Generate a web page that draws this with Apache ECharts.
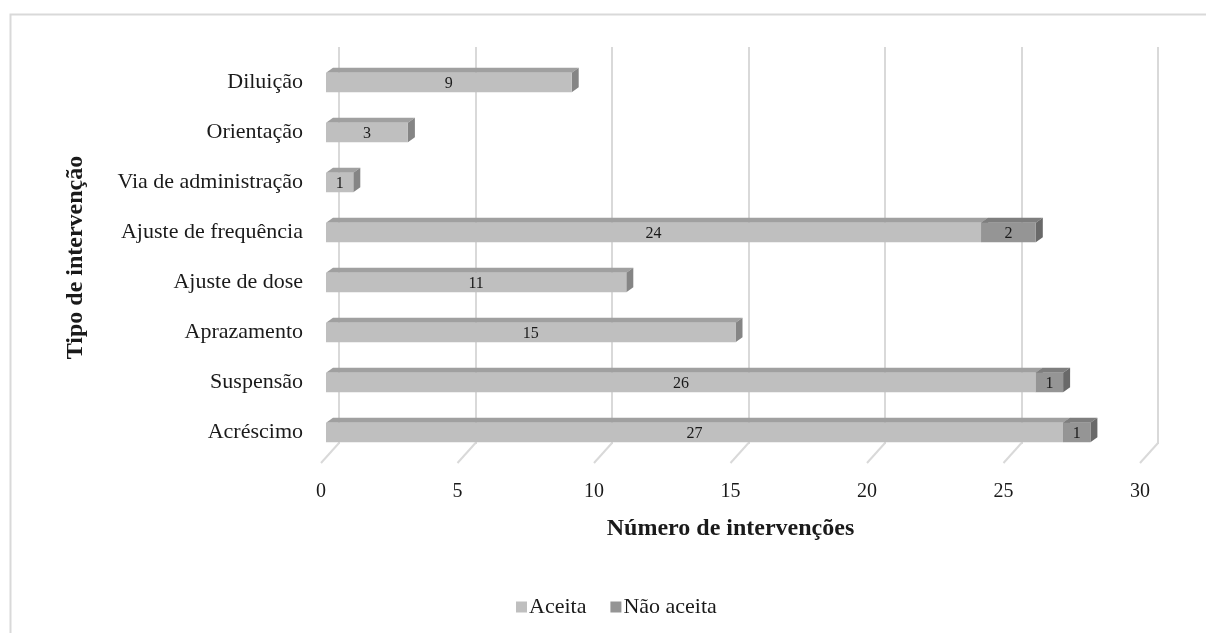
<!DOCTYPE html>
<html>
<head>
<meta charset="utf-8">
<script src="https://cdn.jsdelivr.net/npm/echarts@6/dist/echarts.min.js"></script>
<style>
  html, body { margin: 0; padding: 0; background: #ffffff; }
  #chart { width: 1206px; height: 633px; }
</style>
</head>
<body>
<div id="chart"></div>
<script>
// Intervention types, listed top to bottom
const categories = ['Diluição', 'Orientação', 'Via de administração', 'Ajuste de frequência',
  'Ajuste de dose', 'Aprazamento', 'Suspensão', 'Acréscimo'];
const aceita = [9, 3, 1, 24, 11, 15, 26, 27];
const naoAceita = [0, 0, 0, 2, 0, 0, 1, 1];
const xTicks = [0, 5, 10, 15, 20, 25, 30];

const FONT = '"Liberation Serif", "Times New Roman", serif';
const TEXT = '#1a1a1a';

// [start, end, categoryIndex] for each stacked segment
const aceitaSeg = aceita.map((v, i) => [0, v, i]);
const naoSeg = naoAceita.map((v, i) => [aceita[i], aceita[i] + v, i]);

// Draws a pseudo-3D box: front face, top face, right side face and a value label
function boxRenderer(front, top, side) {
  return function (params, api) {
    const s = api.value(0), e = api.value(1), c = api.value(2);
    if (e - s <= 0) return;
    const a = api.coord([s, c]);
    const b = api.coord([e, c]);
    const h = 19.5, dx = 7, dy = 5;
    const x0 = a[0], x1 = b[0];
    const y0 = a[1] - h / 2, y1 = a[1] + h / 2;
    return {
      type: 'group',
      children: [
        { type: 'polygon', shape: { points: [[x0, y0], [x1, y0], [x1 + dx, y0 - dy], [x0 + dx, y0 - dy]] },
          style: { fill: top } },
        { type: 'polygon', shape: { points: [[x1, y0], [x1 + dx, y0 - dy], [x1 + dx, y1 - dy], [x1, y1]] },
          style: { fill: side } },
        { type: 'rect', shape: { x: x0, y: y0, width: x1 - x0, height: h },
          style: { fill: front } },
        { type: 'text', style: { text: String(e - s), x: (x0 + x1) / 2, y: (y0 + y1) / 2 + 1,
          align: 'center', verticalAlign: 'middle', fill: TEXT, font: '16px ' + FONT } }
      ]
    };
  };
}

const chart = echarts.init(document.getElementById('chart'), null, { renderer: 'canvas' });

chart.setOption({
  backgroundColor: '#ffffff',
  animation: false,
  graphic: [{
    type: 'rect', left: 8, top: 12, shape: { width: 1300, height: 700 },
    style: { fill: 'none', stroke: '#d9d9d9', lineWidth: 2 }, silent: true
  }],
  legend: {
    data: ['Aceita', 'Não aceita'],
    left: 511, top: 591,
    icon: 'rect', itemWidth: 11, itemHeight: 11, itemGap: 24,
    textStyle: { fontFamily: FONT, fontSize: 22, color: TEXT, padding: [0, 0, 0, -3] }
  },
  grid: [
    { left: 326, right: 61, top: 57.5, bottom: 175.5 },   // bars (front plane)
    { left: 339, right: 48, top: 47, bottom: 189 },       // gridlines (back plane)
    { left: 321, right: 66, top: 444, bottom: 170 }       // floor and tick labels
  ],
  xAxis: [
    { gridIndex: 0, type: 'value', min: 0, max: 30, interval: 5, show: false },
    { gridIndex: 1, type: 'value', min: 0, max: 30, interval: 5,
      axisLine: { show: false }, axisTick: { show: false }, axisLabel: { show: false },
      splitLine: { show: true, lineStyle: { color: '#d9d9d9', width: 2 } } },
    { gridIndex: 2, type: 'value', min: 0, max: 30, interval: 5,
      axisLine: { show: false }, axisTick: { show: false }, splitLine: { show: false },
      axisLabel: { margin: 19, fontFamily: FONT, fontSize: 20, color: TEXT,
        formatter: v => xTicks.includes(v) ? String(v) : '' },
      name: 'Número de intervenções', nameLocation: 'middle', nameGap: 54,
      nameTextStyle: { fontFamily: FONT, fontSize: 24, fontWeight: 'bold', color: TEXT } }
  ],
  yAxis: [
    { gridIndex: 0, type: 'category', data: categories, inverse: true,
      axisLine: { show: false }, axisTick: { show: false }, splitLine: { show: false },
      axisLabel: { margin: 23, fontFamily: FONT, fontSize: 22, color: TEXT,
        verticalAlign: 'middle', padding: [8, 0, 0, 0] },
      name: 'Tipo de intervenção', nameLocation: 'middle', nameRotate: 90, nameGap: 238,
      nameTextStyle: { fontFamily: FONT, fontSize: 24, fontWeight: 'bold', color: TEXT } },
    { gridIndex: 1, type: 'value', min: 0, max: 1, show: false },
    { gridIndex: 2, type: 'value', min: 0, max: 1, show: false }
  ],
  series: [
    {
      // floor segments of the gridlines, running from the back plane toward the tick labels
      type: 'custom', name: 'floor', xAxisIndex: 2, yAxisIndex: 2, silent: true,
      data: xTicks.map(v => [v]),
      encode: { x: 0 },
      renderItem: function (params, api) {
        const v = api.value(0);
        const bottom = api.coord([v, 0]);
        const top = api.coord([v, 1]);
        return { type: 'polyline',
          shape: { points: [[bottom[0] + 18, top[1] - 1], [bottom[0], bottom[1]]] },
          style: { stroke: '#d9d9d9', lineWidth: 2, fill: 'none' } };
      }
    },
    {
      type: 'custom', name: 'Aceita', xAxisIndex: 0, yAxisIndex: 0,
      itemStyle: { color: '#bfbfbf' },
      data: aceitaSeg, encode: { x: [0, 1], y: 2 },
      renderItem: boxRenderer('#bfbfbf', '#a0a0a0', '#858585')
    },
    {
      type: 'custom', name: 'Não aceita', xAxisIndex: 0, yAxisIndex: 0,
      itemStyle: { color: '#959595' },
      data: naoSeg, encode: { x: [0, 1], y: 2 },
      renderItem: boxRenderer('#959595', '#7e7e7e', '#696969')
    }
  ]
});
</script>
</body>
</html>
